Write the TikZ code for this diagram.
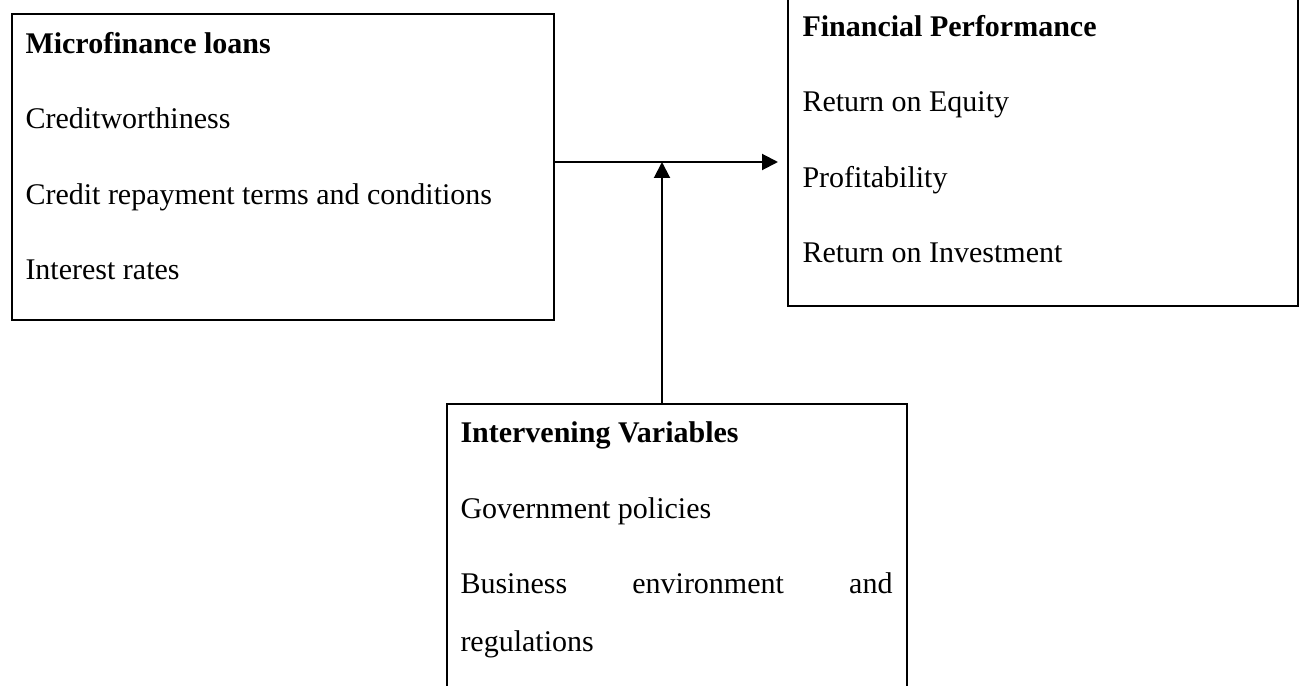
\documentclass[tikz,border=0pt]{standalone}
\usepackage{fontspec}
\setmainfont{Liberation Serif}
\usetikzlibrary{arrows.meta, positioning, calc}

\begin{document}
\begin{tikzpicture}[
  x=0.4pt, y=-0.4pt,
  >={Triangle[length=6.4pt, width=6.4pt]},
  frame/.style={draw, line width=0.8pt, rectangle, inner sep=0pt},
  body/.style={anchor=north west, inner sep=0pt, align=left, font=\fontsize{12}{30.2}\selectfont},
  arrow/.style={->, line width=0.8pt}
]
\useasboundingbox (0,0) rectangle (1302,686);

% Frames
\node[frame, minimum width=542*0.4pt, minimum height=306*0.4pt, anchor=north west] (loans) at (11,13) {};
\node[frame, minimum width=510*0.4pt, minimum height=310*0.4pt, anchor=north west] (perf) at (787,-5) {};
\node[frame, minimum width=460*0.4pt, minimum height=300*0.4pt, anchor=north west] (inter) at (446,403) {};

% Texts
\node[body] (loanstext) at (25,31.5) {\textbf{Microfinance loans}\\
  Creditworthiness\\
  Credit repayment terms and conditions\\
  Interest rates};
\node[body] (perftext) at (802,14.5) {\textbf{Financial Performance}\\
  Return on Equity\\
  Profitability\\
  Return on Investment};
\node[body] (intertext) at (460,421.5) {\textbf{Intervening Variables}\\
  Government policies\\
  \makebox[172.8pt][s]{Business environment and}\\[-7pt]
  regulations};

% Arrows
\coordinate (join) at (662,162);
\draw[arrow, shorten >=3.6pt] (loans.east |- join) -- (perf.west |- join);
\draw[arrow] (inter.north -| join) -- (join);

\end{tikzpicture}
\end{document}
